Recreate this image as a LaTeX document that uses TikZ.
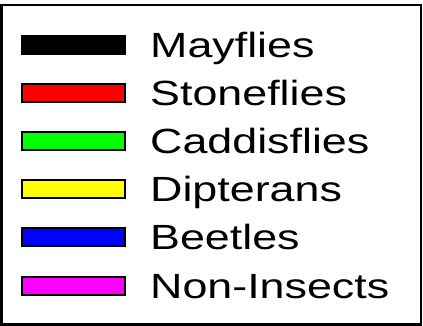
\documentclass[tikz,border=0pt]{standalone}
\usepackage{fontspec}
\newfontfamily\legendfont[FakeStretch=1.28]{Liberation Sans}
\usepackage{tikz}
\usetikzlibrary{positioning}
\definecolor{fullred}{RGB}{255,0,0}
\definecolor{fullgreen}{RGB}{0,255,0}
\definecolor{fullyellow}{RGB}{255,255,0}
\definecolor{fullblue}{RGB}{0,0,255}
\definecolor{fullmagenta}{RGB}{255,0,255}
\begin{document}
\begin{tikzpicture}[
    x=1pt, y=-1pt,
    frame/.style={
        draw,
        line width=2.3pt
    },
    swatch/.style={
        draw,
        line width=2pt,
        minimum width=103pt,
        minimum height=18pt,
        inner sep=0pt
    },
    label/.style={
        anchor=base west,
        inner sep=0pt,
        font=\legendfont\fontsize{35}{40}\selectfont
    }
]
\useasboundingbox (0,0) rectangle (423,326);

% OUTER FRAME
\draw[frame] (1.5,5) rectangle (421,324.5);

% SWATCHES
\node[swatch, fill=black] (mayswatch) at (73.5,45) {};
\node[swatch, fill=fullred] (stoneswatch) at (73.5,93.1) {};
\node[swatch, fill=fullgreen] (caddisswatch) at (73.5,141.2) {};
\node[swatch, fill=fullyellow] (dipswatch) at (73.5,189.3) {};
\node[swatch, fill=fullblue] (beetleswatch) at (73.5,237.4) {};
\node[swatch, fill=fullmagenta] (nonswatch) at (73.5,285.5) {};

% LABELS
\node[label] (maylabel) at (150,57.5) {Mayflies};
\node[label] (stonelabel) at (150,105.6) {Stoneflies};
\node[label] (caddislabel) at (150,153.7) {Caddisflies};
\node[label] (diplabel) at (150,201.8) {Dipterans};
\node[label] (beetlelabel) at (150,249.9) {Beetles};
\node[label] (nonlabel) at (150,298) {Non-Insects};

\end{tikzpicture}
\end{document}
